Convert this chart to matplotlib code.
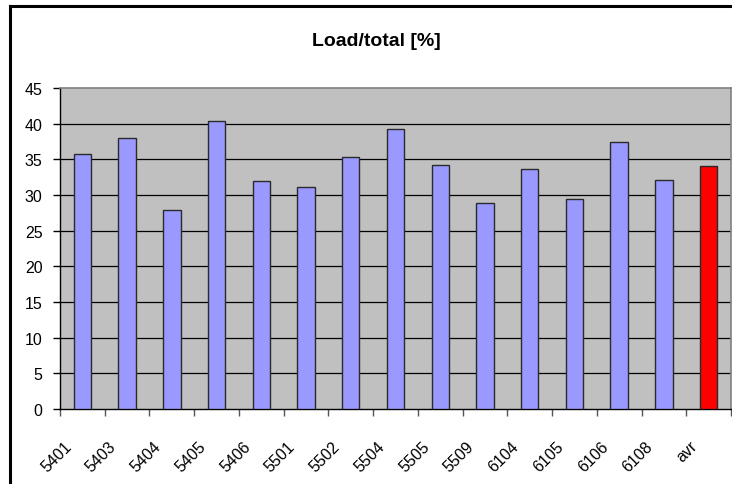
import matplotlib
matplotlib.use("Agg")
import matplotlib.pyplot as plt
import matplotlib.transforms as mtransforms
from matplotlib.lines import Line2D
import numpy as np

plt.rcParams['font.family'] = ['Liberation Sans', 'DejaVu Sans']

categories = ["5401", "5403", "5404", "5405", "5406", "5501", "5502", "5504",
              "5505", "5509", "6104", "6105", "6106", "6108", "avr"]
values = [35.8, 38.0, 27.9, 40.4, 31.9, 31.1, 35.3, 39.3,
          34.2, 28.9, 33.6, 29.5, 37.4, 32.1, 34.0]
colors = ["#9999FF"] * 14 + ["#FF0000"]
title = "Load/total [%]"
yticks = [0, 5, 10, 15, 20, 25, 30, 35, 40, 45]

W, H = 732, 485
fig = plt.figure(figsize=(W / 100, H / 100), dpi=100)

# chart area border (partially cut off at right/bottom)
fig.add_artist(Line2D([10 / W, 1.0], [1 - 7 / H, 1 - 7 / H], color='black', lw=2.2,
                      transform=fig.transFigure))
fig.add_artist(Line2D([10 / W, 10 / W], [0.0, 1 - 7 / H], color='black', lw=2.2,
                      transform=fig.transFigure))

ax = fig.add_axes([60 / W, (H - 410) / H, 671 / W, (410 - 89) / H])
ax.set_facecolor('#C0C0C0')

x = np.arange(len(categories))
ax.bar(x, values, width=0.39, color=colors, edgecolor='#2a2a2a', linewidth=1.0, zorder=3)

ax.set_xlim(-0.5, len(categories) - 0.5)
ax.set_ylim(0, 45)
ax.set_yticks(yticks)
ax.set_yticklabels([str(v) for v in yticks], fontsize=11.5)
for v in yticks[1:-1]:
    ax.axhline(v, color='black', lw=0.9, zorder=1)

ax.set_xticks(x)
ax.set_xticklabels(categories, rotation=45, ha='right', rotation_mode='default', fontsize=11.5)
ax.set_xticks(np.arange(-0.5, len(categories), 1.0), minor=True)
ax.tick_params(axis='x', which='major', length=0, pad=21)
ax.tick_params(axis='x', which='minor', length=5, color='#555555', width=1)
ax.tick_params(axis='y', length=5, color='black', width=1, pad=7.5)

offset = mtransforms.ScaledTranslation(-8 / 100, 0, fig.dpi_scale_trans)
for lab in ax.get_xticklabels():
    lab.set_transform(lab.get_transform() + offset)

for s in ['top', 'right']:
    ax.spines[s].set_color('#808080')
    ax.spines[s].set_linewidth(1.2)
for s in ['left', 'bottom']:
    ax.spines[s].set_color('black')
    ax.spines[s].set_linewidth(1.0)

fig.text(376 / W, 1 - 41 / H, title, ha='center', va='center', fontsize=14, fontweight='bold')

fig.savefig("out.png", dpi=100)
